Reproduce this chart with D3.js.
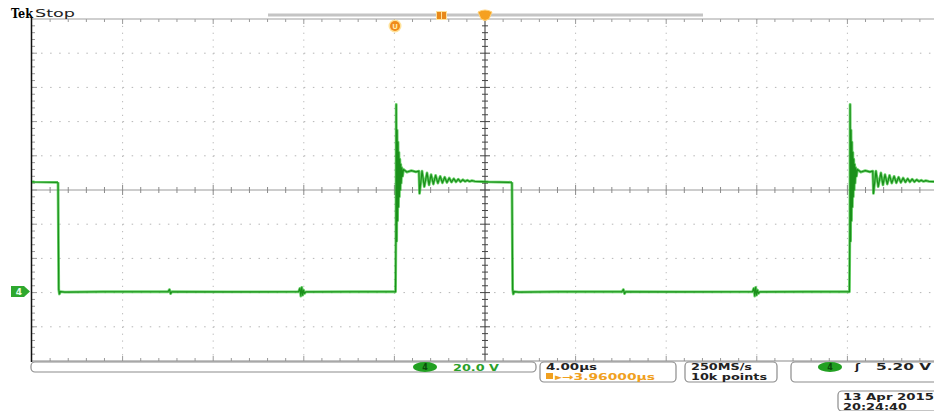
<!DOCTYPE html>
<html>
<head>
<meta charset="utf-8">
<script src="https://cdn.jsdelivr.net/npm/d3@7"></script>
<style>
  body { margin: 0; background: #fff; }
  svg { display: block; }
</style>
</head>
<body>
<svg></svg>
<script>
// waveform: one switching cycle, time in us after the falling edge, volts
const cycleTime = [
    0, 0.03, 0.06, 0.1, 0.3, 2.0, 4.85, 4.92, 4.97, 5.02, 7.5,
    10.62, 10.68, 10.72, 10.76, 10.8, 10.84, 10.88, 10.94, 13.0, 14.9,
    14.92, 14.93, 14.95, 14.97, 14.99, 15.01, 15.03, 15.05, 15.07, 15.09,
    15.11, 15.13, 15.15, 15.18, 15.21, 15.25, 15.4, 15.6, 15.8, 15.93,
    15.96, 16.07, 16.17, 16.29, 16.38, 16.47, 16.57, 16.67, 16.77, 16.87,
    16.97, 17.07, 17.17, 17.27, 17.37, 17.47, 17.57, 17.67, 17.77, 17.87,
    17.97, 18.07, 18.17, 18.27, 18.4, 19.0, 20.04
];
const cycleVolts = [
    64.5, 2, -0.8, 0.6, 0.3, 0.5, 0.5, 1.8, -0.6, 0.5, 0.4,
    0.5, 2.5, -2, 3, -1.5, 1.5, -0.5, 0.4, 0.5, 0.5,
    40, 110, 30, 95, 42, 88, 50, 82, 56, 78,
    60, 75, 64, 73, 68, 72, 70.5, 71.3, 70.6, 71,
    58, 71, 62, 70, 63, 69, 63.5, 68.5, 64, 68,
    64.2, 67.5, 64.4, 67, 64.6, 66.6, 64.7, 66.3, 64.8, 66,
    65, 65.7, 65, 65.5, 65.1, 64.7, 64.5
];
// falling edges of the cycles on screen (us from trigger)
const fallTimes = [-38.89, -18.85, 1.19];

const timeDomain = [-20, 20];   // 10 div x 4.00 us
const voltDomain = [-40, 160];  // 10 div x 20.0 V, ground 3 div below centre

let svg = d3.select("svg").attr("width", 934).attr("height", 411);

const gLeft = 32, gRight = 938, gTop = 19, gBottom = 361;
let x = d3.scaleLinear().domain(timeDomain).range([gLeft, gRight]);
let y = d3.scaleLinear().domain(voltDomain).range([gBottom, gTop]);

const divX = (gRight - gLeft) / 10;
const divY = (gBottom - gTop) / 10;
const sans = "'DejaVu Sans', sans-serif";

function Grid_Draw() {
    let g = svg.append("g");

    // dotted graticule
    for (let i = 1; i < 10; i++) {
        if (i === 5) continue;
        g.append("line")
            .attr("x1", gLeft + i * divX).attr("x2", gLeft + i * divX)
            .attr("y1", gTop).attr("y2", gBottom)
            .style("stroke", "#b5b5b5").style("stroke-width", 1)
            .style("stroke-dasharray", "1.2," + (divY / 5 - 1.2));
        g.append("line")
            .attr("x1", gLeft).attr("x2", gRight)
            .attr("y1", gTop + i * divY).attr("y2", gTop + i * divY)
            .style("stroke", "#b5b5b5").style("stroke-width", 1)
            .style("stroke-dasharray", "1.5," + (divX / 10 - 1.5));
    }

    // centre cross with minor ticks
    let cx = gLeft + 5 * divX, cy = gTop + 5 * divY;
    g.append("line").attr("x1", gLeft).attr("x2", gRight).attr("y1", cy).attr("y2", cy)
        .style("stroke", "#9a9a9a").style("stroke-width", 1);
    g.append("line").attr("x1", cx).attr("x2", cx).attr("y1", gTop).attr("y2", gBottom)
        .style("stroke", "#333").style("stroke-width", 1);

    for (let i = 1; i < 50; i++) {
        let px = gLeft + i * divX / 5;
        let len = i % 5 === 0 ? 5 : 3;
        g.append("line").attr("x1", px).attr("x2", px).attr("y1", cy - len).attr("y2", cy + len)
            .style("stroke", "#8a8a8a").style("stroke-width", 1);
        g.append("line").attr("x1", px).attr("x2", px).attr("y1", gTop).attr("y2", gTop + len)
            .style("stroke", "#9a9a9a").style("stroke-width", 1);
        g.append("line").attr("x1", px).attr("x2", px).attr("y1", gBottom - len).attr("y2", gBottom)
            .style("stroke", "#9a9a9a").style("stroke-width", 1);

        let py = gTop + i * divY / 5;
        g.append("line").attr("x1", cx - len).attr("x2", cx + len).attr("y1", py).attr("y2", py)
            .style("stroke", "#444").style("stroke-width", 1);
        g.append("line").attr("x1", gLeft).attr("x2", gLeft + len).attr("y1", py).attr("y2", py)
            .style("stroke", "#9a9a9a").style("stroke-width", 1);
    }

    // frame
    g.append("line").attr("x1", gLeft).attr("x2", gRight).attr("y1", gTop).attr("y2", gTop)
        .style("stroke", "#a0a0a0").style("stroke-width", 1.2);
    g.append("line").attr("x1", gLeft).attr("x2", gRight).attr("y1", gBottom).attr("y2", gBottom)
        .style("stroke", "#8a8a8a").style("stroke-width", 1.2);
    g.append("line").attr("x1", gLeft - 0.5).attr("x2", gLeft - 0.5).attr("y1", gTop - 1).attr("y2", gBottom + 1)
        .style("stroke", "#111").style("stroke-width", 1.5);
}

function Trace_Draw() {
    svg.append("clipPath").attr("id", "screen")
        .append("rect").attr("x", gLeft).attr("y", gTop).attr("width", gRight - gLeft).attr("height", gBottom - gTop);

    let line = d3.line().x((d) => x(d.t)).y((d) => y(d.v));
    let g = svg.append("g").attr("clip-path", "url(#screen)");

    fallTimes.forEach((t0) => {
        let pts = cycleTime.map((t, i) => ({ t: t0 + t, v: cycleVolts[i] }));
        g.append("path").attr("d", line(pts))
            .style("fill", "none").style("stroke", "#3cc43c").style("stroke-width", 2.8)
            .style("stroke-opacity", 0.75).style("stroke-linejoin", "round");
        g.append("path").attr("d", line(pts))
            .style("fill", "none").style("stroke", "#1a901a").style("stroke-width", 1.2)
            .style("stroke-linejoin", "round");
    });
}

function Markers_Draw() {
    // Tek Stop
    svg.append("text").attr("x", 11).attr("y", 17.5).text("Tek")
        .attr("textLength", 22).attr("lengthAdjust", "spacingAndGlyphs")
        .style("font-family", "'DejaVu Serif', serif").style("font-weight", "bold").style("font-size", "12.5px");
    svg.append("text").attr("x", 35).attr("y", 17).text("Stop")
        .attr("textLength", 40).attr("lengthAdjust", "spacingAndGlyphs")
        .style("font-family", sans).style("font-size", "11px").style("fill", "#222");

    // record view bar
    svg.append("line").attr("x1", 268).attr("x2", 703).attr("y1", 15).attr("y2", 15)
        .style("stroke", "#c4c4c4").style("stroke-width", 3);

    // orange markers
    svg.append("circle").attr("cx", 395).attr("cy", 26).attr("r", 6.5).style("fill", "#ffe29a");
    svg.append("circle").attr("cx", 395).attr("cy", 26).attr("r", 5).style("fill", "#f08a1a");
    svg.append("text").attr("x", 395).attr("y", 29).attr("text-anchor", "middle").text("U")
        .style("font-family", sans).style("font-size", "7px").style("font-weight", "bold").style("fill", "#ffe9a8");

    svg.append("rect").attr("x", 436).attr("y", 11).attr("width", 11).attr("height", 9).style("fill", "#ffe29a");
    svg.append("rect").attr("x", 437).attr("y", 12).attr("width", 4).attr("height", 7).style("fill", "#e8881a");
    svg.append("rect").attr("x", 442).attr("y", 12).attr("width", 4).attr("height", 7).style("fill", "#e8881a");

    svg.append("path").attr("d", "M 478 12 Q 485 8 492 12 L 489 19 Q 485 22 481 19 Z")
        .style("fill", "#f5a020").style("stroke", "#ffd27a").style("stroke-width", 1);

    // channel 4 ground marker
    let gy = y(0) - 1;
    svg.append("path")
        .attr("d", `M 11 ${gy - 5.5} L 24 ${gy - 5.5} L 30 ${gy} L 24 ${gy + 5.5} L 11 ${gy + 5.5} Z`)
        .style("fill", "#2ea82e");
    svg.append("text").attr("x", 19).attr("y", gy + 3.5).attr("text-anchor", "middle").text("4")
        .style("font-family", sans).style("font-size", "9px").style("font-weight", "bold").style("fill", "#e8ffe8");
}

function Readout_Draw() {
    let box = (x0, y0, w, h) => svg.append("rect")
        .attr("x", x0).attr("y", y0).attr("width", w).attr("height", h).attr("rx", 4)
        .style("fill", "#fff").style("stroke", "#8c8c8c").style("stroke-width", 1.2);
    let txt = (x0, y0, s, w, color) => svg.append("text").attr("x", x0).attr("y", y0).text(s)
        .attr("textLength", w).attr("lengthAdjust", "spacingAndGlyphs")
        .style("font-family", sans).style("font-weight", "bold").style("font-size", "9px")
        .style("fill", color || "#222");
    let chan = (cx, cy) => {
        svg.append("ellipse").attr("cx", cx).attr("cy", cy).attr("rx", 12).attr("ry", 5).style("fill", "#22a022");
        svg.append("text").attr("x", cx).attr("y", cy + 3).attr("text-anchor", "middle").text("4")
            .style("font-family", sans).style("font-size", "8px").style("font-weight", "bold").style("fill", "#0c4a0c");
    };

    box(31, 362, 505, 10);
    chan(425, 367);
    txt(453, 370.5, "20.0 V", 46, "#2aa02a");

    box(540, 362, 136, 20);
    txt(546, 369.5, "4.00µs", 51);
    svg.append("rect").attr("x", 546).attr("y", 373).attr("width", 7).attr("height", 6).style("fill", "#f0a020");
    txt(555, 379.5, "▸→3.96000µs", 100, "#f0a020");

    box(685, 362, 92, 20);
    txt(691, 369.5, "250MS/s", 61);
    txt(691, 379.5, "10k points", 76);

    box(791, 362, 150, 20);
    chan(830, 367);
    txt(855, 370, "ʃ", 5);
    txt(876, 370, "5.20 V", 55);

    box(838, 391, 102, 20);
    txt(843, 399.5, "13 Apr 2015", 91);
    txt(843, 409.5, "20:24:40", 64);
}

Grid_Draw();
Trace_Draw();
Markers_Draw();
Readout_Draw();
</script>
</body>
</html>
